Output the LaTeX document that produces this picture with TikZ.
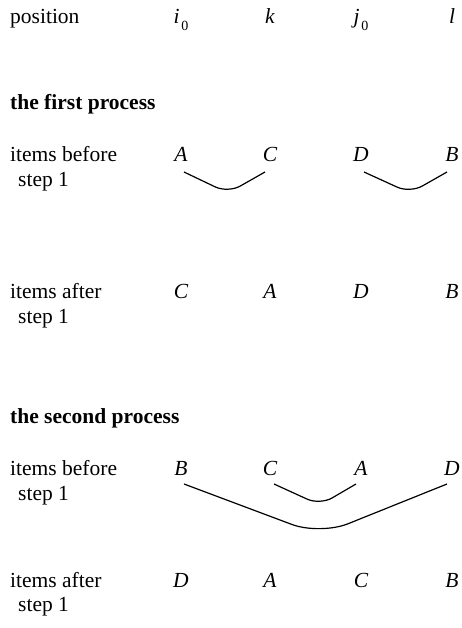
\documentclass[tikz,border=0pt]{standalone}
\usepackage{fontspec}
\setmainfont{Liberation Serif}
\usetikzlibrary{positioning}

\newcommand{\lowzero}{\kern2pt\raisebox{-7pt}{\upshape\fontsize{14}{14}\selectfont 0}}

\begin{document}
\begin{tikzpicture}[x=1pt,y=-1pt,
  txt/.style={anchor=base west,inner sep=0pt,font=\fontsize{21.5}{26}\selectfont},
  ttl/.style={anchor=base west,inner sep=0pt,font=\fontsize{21.5}{26}\selectfont\bfseries},
  itm/.style={anchor=base,inner sep=0pt,font=\fontsize{21.5}{26}\selectfont\itshape},
  swap/.style={line width=1.2pt,rounded corners=14pt}]
  \useasboundingbox (0,0) rectangle (461,628);

  \node[txt] (pos) at (10,24) {position};
  \node[itm] (hi) at (181,24) {i\lowzero};
  \node[itm] (hk) at (270,24) {k};
  \node[itm] (hj) at (361,24) {j\lowzero};
  \node[itm] (hl) at (452,24) {l};

  % the first process
  \node[ttl] (t1) at (10,110) {the first process};
  \node[txt] (b1) at (10,162) {items before};
  \node[txt] (b1s) at (18,187) {step 1};
  \foreach \x/\n/\l in {181/1/A,270/2/C,361/3/D,452/4/B}
    \node[itm] (b1\n) at (\x,162) {\l};
  \draw[swap] ([xshift=3pt,yshift=-10pt]b11.base) -- (228,193) -- ([xshift=-5pt,yshift=-10pt]b12.base);
  \draw[swap] ([xshift=3pt,yshift=-10pt]b13.base) -- (410,193) -- ([xshift=-5pt,yshift=-10pt]b14.base);

  \node[txt] (a1) at (10,298) {items after};
  \node[txt] (a1s) at (18,323) {step 1};
  \foreach \x/\n/\l in {181/1/C,270/2/A,361/3/D,452/4/B}
    \node[itm] (a1\n) at (\x,298) {\l};

  % the second process
  \node[ttl] (t2) at (10,423) {the second process};
  \node[txt] (b2) at (10,475) {items before};
  \node[txt] (b2s) at (18,500) {step 1};
  \foreach \x/\n/\l in {181/1/B,270/2/C,361/3/A,452/4/D}
    \node[itm] (b2\n) at (\x,475) {\l};
  \draw[swap] ([xshift=4pt,yshift=-9pt]b22.base) -- (320,505) -- ([xshift=-5pt,yshift=-9pt]b23.base);
  \draw[swap,rounded corners=30pt] ([xshift=3pt,yshift=-9pt]b21.base) -- (320,535) -- ([xshift=-5pt,yshift=-9pt]b24.base);

  \node[txt] (a2) at (10,587) {items after};
  \node[txt] (a2s) at (18,611) {step 1};
  \foreach \x/\n/\l in {181/1/D,270/2/A,361/3/C,452/4/B}
    \node[itm] (a2\n) at (\x,587) {\l};
\end{tikzpicture}
\end{document}
